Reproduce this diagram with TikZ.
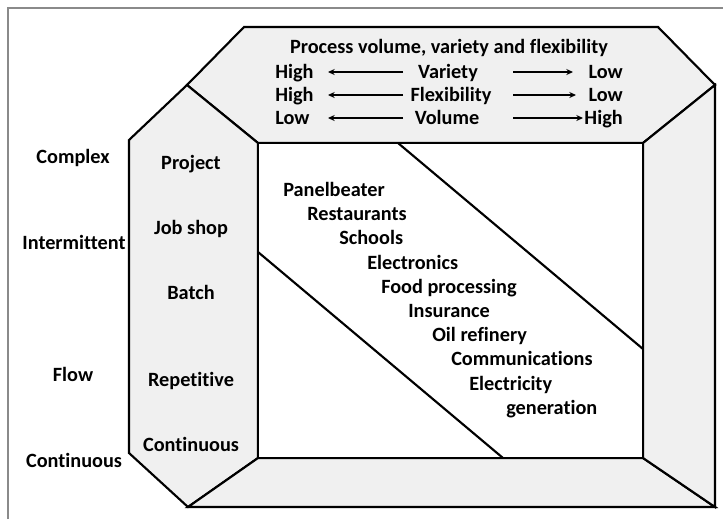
\documentclass[tikz,border=0pt]{standalone}
\usepackage{fontspec}
\setmainfont{Carlito}[Ligatures=NoCommon]
\usetikzlibrary{arrows.meta}
\definecolor{panel}{HTML}{F0F0F0}
\definecolor{framegray}{HTML}{8A8A8A}
\begin{document}
\begin{tikzpicture}[x=0.75pt,y=-0.75pt,
  lbl/.style={font=\bfseries\fontsize{15.2}{17}\selectfont, inner sep=0pt},
  edge/.style={line width=1.6pt, line join=miter},
  band/.style={edge, fill=panel},
  scalearrow/.style={line width=1.2pt, -{Stealth[length=5pt,width=4.5pt]}},
]
\useasboundingbox (0,0) rectangle (723,519);
% page frame
\draw[framegray, line width=1.2pt] (8,519) -- (8,8) -- (723,8);

% outer octagon and inner window
\coordinate (tl) at (244,27);
\coordinate (tr) at (658,27);
\coordinate (rt) at (715,85);
\coordinate (rb) at (715,507);
\coordinate (bl) at (188,507);
\coordinate (lb) at (129,453);
\coordinate (lt) at (129,140);
\coordinate (lj) at (187,85);
\coordinate (i1) at (258,143);
\coordinate (i2) at (643,143);
\coordinate (i3) at (643,458);
\coordinate (i4) at (258,458);

\draw[band] (lj) -- (tl) -- (tr) -- (rt) -- (i2) -- (i1) -- cycle;
\draw[band] (lj) -- (i1) -- (i4) -- (bl) -- (lb) -- (lt) -- cycle;
\draw[band] (bl) -- (rb) -- (i3) -- (i4) -- cycle;
\draw[band] (rt) -- (rb) -- (i3) -- (i2) -- cycle;
\draw[edge, fill=white] (i1) rectangle (i3);

% diagonal band through the window
\coordinate (d1) at (398,143);
\coordinate (d2) at (643,349);
\coordinate (d3) at (258,252);
\coordinate (d4) at (503,458);
\draw[edge] (d1) -- (d2);
\draw[edge] (d3) -- (d4);

% heading block
\node[lbl, anchor=base] (title) at (449,53) {Process volume, variety and flexibility};
\node[lbl, anchor=base west] (h1) at (275,78) {High};
\node[lbl, anchor=base] (m1) at (448,78) {Variety};
\node[lbl, anchor=base east] (e1) at (623,78) {Low};
\node[lbl, anchor=base west] (h2) at (275,101) {High};
\node[lbl, anchor=base] (m2) at (451,101) {Flexibility};
\node[lbl, anchor=base east] (e2) at (623,101) {Low};
\node[lbl, anchor=base west] (h3) at (275,124) {Low};
\node[lbl, anchor=base] (m3) at (447,124) {Volume};
\node[lbl, anchor=base east] (e3) at (623,124) {High};

\coordinate (a1s) at (403,72); \coordinate (a1e) at (328,72);
\coordinate (b1s) at (513,72); \coordinate (b1e) at (573,72);
\coordinate (a2s) at (403,95); \coordinate (a2e) at (328,95);
\coordinate (b2s) at (513,95); \coordinate (b2e) at (576,95);
\coordinate (a3s) at (403,118); \coordinate (a3e) at (328,118);
\coordinate (b3s) at (513,118); \coordinate (b3e) at (583,118);
\draw[scalearrow] (a1s) -- (a1e);
\draw[scalearrow] (b1s) -- (b1e);
\draw[scalearrow] (a2s) -- (a2e);
\draw[scalearrow] (b2s) -- (b2e);
\draw[scalearrow] (a3s) -- (a3e);
\draw[scalearrow] (b3s) -- (b3e);

% process types
\node[lbl, anchor=base] (cx) at (73,163) {Complex};
\node[lbl, anchor=base] (im) at (74,249) {Intermittent};
\node[lbl, anchor=base] (fl) at (73,381) {Flow};
\node[lbl, anchor=base] (co) at (74,467) {Continuous};

\node[lbl, anchor=base] (pj) at (191,169) {Project};
\node[lbl, anchor=base] (js) at (191,234) {Job shop};
\node[lbl, anchor=base] (bt) at (191,299) {Batch};
\node[lbl, anchor=base] (rp) at (191,386) {Repetitive};
\node[lbl, anchor=base] (cn) at (191,451) {Continuous};

% example businesses
\node[lbl, anchor=base west] (x1) at (283,196) {Panelbeater};
\node[lbl, anchor=base west] (x2) at (307,220) {Restaurants};
\node[lbl, anchor=base west] (x3) at (339,244) {Schools};
\node[lbl, anchor=base west] (x4) at (367,269) {Electronics};
\node[lbl, anchor=base west] (x5) at (381,293) {Food processing};
\node[lbl, anchor=base west] (x6) at (408,317) {Insurance};
\node[lbl, anchor=base west] (x7) at (432,341) {Oil refinery};
\node[lbl, anchor=base west] (x8) at (451,365) {Communications};
\node[lbl, anchor=base west] (x9) at (469,390) {Electricity};
\node[lbl, anchor=base west] (x10) at (506,414) {generation};
\end{tikzpicture}
\end{document}
